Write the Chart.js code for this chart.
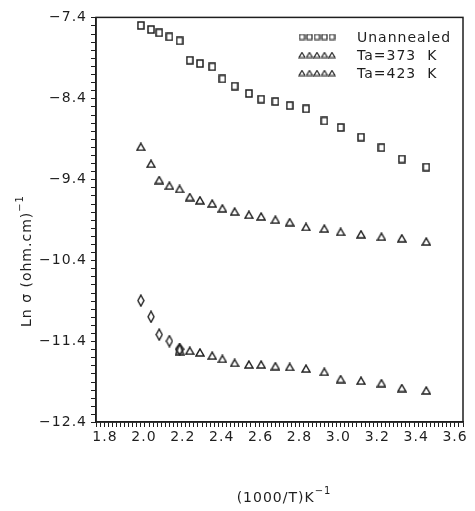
<!DOCTYPE html>
<html>
<head>
<meta charset="utf-8">
<script src="https://cdn.jsdelivr.net/npm/chart.js@4.4.1/dist/chart.umd.min.js"></script>
<style>
  html, body { margin: 0; padding: 0; background: #fff; }
  #wrap { width: 475px; height: 511px; }
</style>
</head>
<body>
<div id="wrap"><canvas id="conductivity-chart"></canvas></div>
<script>
// data
const invTemp = [2.02, 2.07, 2.11, 2.16, 2.21, 2.26, 2.31, 2.37, 2.42, 2.48, 2.55,
  2.61, 2.68, 2.75, 2.83, 2.92, 3.00, 3.10, 3.20, 3.30, 3.42];
const unannealed = [-7.50, -7.55, -7.59, -7.64, -7.69, -7.93, -7.97, -8.01, -8.16, -8.25, -8.34,
  -8.41, -8.44, -8.49, -8.53, -8.68, -8.76, -8.88, -9.01, -9.15, -9.25];
const ta373 = [-9.00, -9.21, -9.41, -9.48, -9.52, -9.62, -9.66, -9.70, -9.76, -9.80, -9.84,
  -9.86, -9.90, -9.93, -9.99, -10.01, -10.05, -10.08, -10.11, -10.13, -10.17];
const ta423 = [-10.90, -11.10, -11.32, -11.40, -11.50, -11.52, -11.54, -11.58, -11.62, -11.67, -11.69,
  -11.69, -11.71, -11.72, -11.74, -11.78, -11.87, -11.89, -11.92, -11.98, -12.01];
const seriesLabels = ["Unannealed", "Ta=373  K", "Ta=423  K"];
const xTickLabels = [1.8, 2.0, 2.2, 2.4, 2.6, 2.8, 3.0, 3.2, 3.4, 3.6];
const yTickLabels = [-7.4, -8.4, -9.4, -10.4, -11.4, -12.4];

const INK = "#1e1e1e";
const FONT = "DejaVu Sans";

// small marker images
function marker(shapes, w, h, lw) {
  const c = document.createElement("canvas");
  c.width = w + 2;
  c.height = h + 2;
  const g = c.getContext("2d");
  g.strokeStyle = INK;
  g.lineWidth = lw;
  shapes.forEach((s) => {
    g.beginPath();
    if (s === "square") {
      g.rect(1, 1, w, h);
    } else if (s === "triangle") {
      g.moveTo(1 + w / 2, 1);
      g.lineTo(1 + w, 1 + h);
      g.lineTo(1, 1 + h);
      g.closePath();
    } else if (s === "diamond") {
      g.moveTo(1 + w / 2, 1);
      g.lineTo(1 + w, 1 + h / 2);
      g.lineTo(1 + w / 2, 1 + h);
      g.lineTo(1, 1 + h / 2);
      g.closePath();
    }
    g.stroke();
  });
  return c;
}

const sqMark = marker(["square"], 6, 7, 1.5);
const triMark = marker(["triangle"], 8, 7, 1.5);
const diaMark = marker(["diamond"], 6, 11, 1.4);
const comboMark = marker(["diamond", "triangle"], 8, 11, 1.5);
const legendMarks = [marker(["square"], 5, 5, 1.2), marker(["triangle"], 6, 5, 1.2), marker(["triangle"], 6, 5, 1.2)];

function points(ys) {
  return invTemp.map((x, i) => ({ x: x, y: ys[i] }));
}

// inside legend, frame, y ticks and axis titles
const decorPlugin = {
  id: "decor",
  beforeDraw(chart) {
    chart.ctx.letterSpacing = "1px";
  },
  afterDraw(chart) {
    const { ctx, chartArea: a } = chart;
    const yScale = chart.scales.y;
    ctx.save();
    ctx.strokeStyle = INK;
    ctx.lineWidth = 1.5;
    ctx.strokeRect(a.left, a.top, a.right - a.left, a.bottom - a.top);

    // y ticks every 0.1, pointing out to the left
    ctx.lineWidth = 1;
    ctx.beginPath();
    yScale.ticks.forEach((t) => {
      const py = Math.round(yScale.getPixelForValue(t.value)) + 0.5;
      ctx.moveTo(a.left - 5, py);
      ctx.lineTo(a.left, py);
    });
    ctx.stroke();

    ctx.fillStyle = INK;
    ctx.font = `14px "${FONT}"`;
    ctx.letterSpacing = "1px";
    ctx.textBaseline = "middle";
    chart.data.datasets.forEach((ds, i) => {
      const y = 37 + i * 18;
      const img = legendMarks[i];
      for (let k = 0; k < 5; k++) {
        ctx.drawImage(img, 300 + k * 7.5 - img.width / 2 + 2, y - img.height / 2);
      }
      ctx.fillText(ds.label, 357, y + 1);
    });

    // x title
    ctx.textBaseline = "alphabetic";
    ctx.font = `14px "${FONT}"`;
    const xt = "(1000/T)K";
    const xw = ctx.measureText(xt).width;
    ctx.font = `10px "${FONT}"`;
    const xs = ctx.measureText("\u22121").width;
    let x0 = 284 - (xw + xs) / 2;
    ctx.font = `14px "${FONT}"`;
    ctx.fillText(xt, x0, 502);
    ctx.font = `10px "${FONT}"`;
    ctx.fillText("\u22121", x0 + xw, 494);

    // y title
    ctx.translate(26, 261);
    ctx.rotate(-Math.PI / 2);
    ctx.font = `14px "${FONT}"`;
    const yt = "Ln \u03c3 (ohm.cm)";
    const yw = ctx.measureText(yt).width;
    ctx.font = `10px "${FONT}"`;
    const ys = ctx.measureText("\u22121").width;
    x0 = -(yw + ys) / 2;
    ctx.font = `14px "${FONT}"`;
    ctx.fillText(yt, x0, 5);
    ctx.font = `10px "${FONT}"`;
    ctx.fillText("\u22121", x0 + yw, -3);
    ctx.restore();
  },
};

const near = (a, b) => Math.abs(a - b) < 1e-6;

new Chart(document.getElementById("conductivity-chart"), {
  type: "scatter",
  data: {
    datasets: [
      { label: seriesLabels[0], data: points(unannealed), pointStyle: sqMark },
      { label: seriesLabels[1], data: points(ta373), pointStyle: triMark },
      {
        label: seriesLabels[2],
        data: points(ta423),
        pointStyle: (c) => (c.dataIndex < 4 ? diaMark : c.dataIndex === 4 ? comboMark : triMark),
      },
    ],
  },
  options: {
    responsive: true,
    maintainAspectRatio: false,
    animation: false,
    layout: { padding: { left: 0, right: 12, top: 16, bottom: 0 } },
    plugins: { legend: { display: false }, tooltip: { enabled: false } },
    scales: {
      x: {
        type: "linear",
        min: 1.8,
        max: 3.6,
        weight: 0,
        afterBuildTicks: (s) => {
          const t = [];
          for (let i = 0; i <= 90; i++) t.push({ value: 1.8 + i * 0.02 });
          s.ticks = t;
        },
        ticks: { display: false },
        grid: { drawOnChartArea: false, tickLength: 5, color: INK, lineWidth: 1 },
        border: { display: true, color: INK, width: 1.5 },
        afterFit: (s) => { s.height = 5; },
      },
      // label row for the x axis (labels sit slightly inside the tick span in the original)
      xLabels: {
        type: "linear",
        position: "bottom",
        min: 1.7537,
        max: 3.6407,
        weight: 1,
        afterBuildTicks: (s) => { s.ticks = xTickLabels.map((v) => ({ value: v })); },
        ticks: {
          padding: 2,
          color: INK,
          font: { family: FONT, size: 14 },
          callback: (v) => v.toFixed(1),
        },
        grid: { display: false, drawTicks: false },
        border: { display: false },
        afterFit: (s) => { s.height = 84; },
      },
      y: {
        type: "linear",
        min: -12.4,
        max: -7.4,
        afterBuildTicks: (s) => {
          const t = [];
          for (let i = 0; i <= 50; i++) t.push({ value: -12.4 + i * 0.1 });
          s.ticks = t;
        },
        ticks: {
          autoSkip: false,
          padding: 9,
          color: INK,
          font: { family: FONT, size: 14 },
          callback: (v) => {
            const hit = yTickLabels.find((m) => near(m, v));
            return hit === undefined ? "" : hit.toFixed(1).replace("-", "\u2212");
          },
        },
        grid: { drawOnChartArea: false, drawTicks: false },
        border: { display: true, color: INK, width: 1.5 },
        afterFit: (s) => { s.width = 96; },
      },
    },
  },
  plugins: [decorPlugin],
});
</script>
</body>
</html>
